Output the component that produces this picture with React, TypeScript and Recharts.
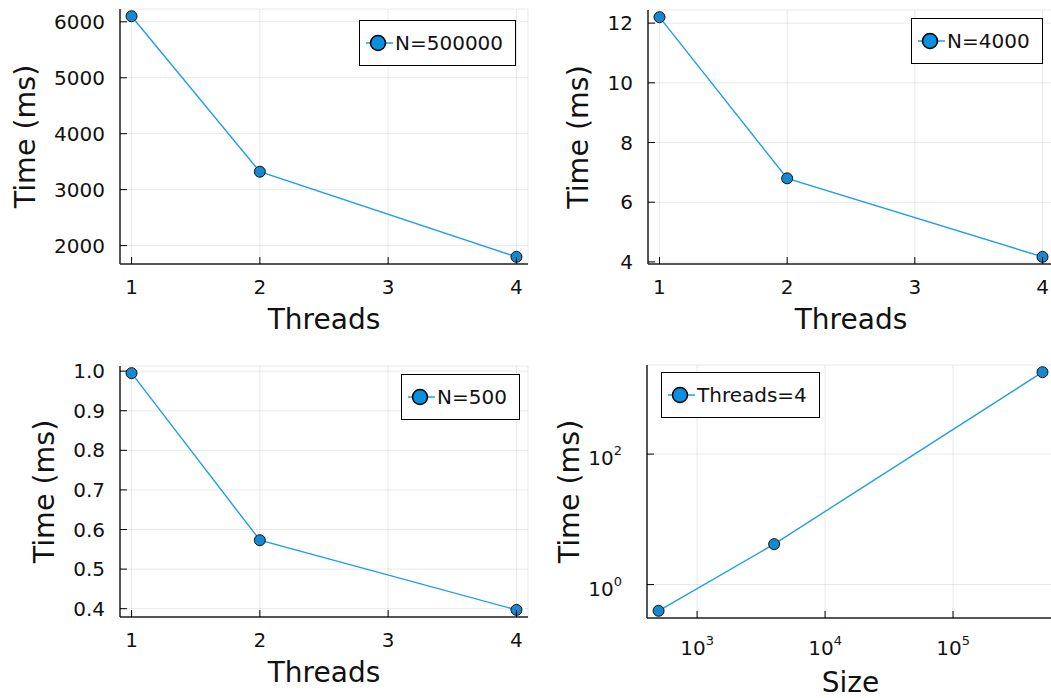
import React from 'react'
import { LineChart, Line, XAxis, YAxis, CartesianGrid, Legend } from 'recharts'

// values
const threads = [1, 2, 4]
const timeN500000 = [6100, 3320, 1800]
const timeN4000 = [12.2, 6.8, 4.17]
const timeN500 = [0.995, 0.573, 0.397]
const sizes = [500, 4000, 500000]
const timeThreads4 = [0.397, 4.17, 1800]

const threadTicks = [1, 2, 3, 4]
const ticksN500000 = [2000, 3000, 4000, 5000, 6000]
const ticksN4000 = [4, 6, 8, 10, 12]
const ticksN500 = [0.4, 0.5, 0.6, 0.7, 0.8, 0.9, 1.0]
const sizeTicks = [1000, 10000, 100000]
const logTimeTicks = [1, 100]

const FONT = "'DejaVu Sans', sans-serif"
const BLUE = '#1f9ee8'

const toRows = (xs, ys) => xs.map((x, i) => ({ x, t: ys[i] }))

const exp10 = v => Math.round(Math.log10(v))

const XTick = ({ x, y, payload, log }) => (
  <g>
    <line x1={x} x2={x} y1={y} y2={y - 7} stroke="#000" strokeWidth={1} />
    {log ? (
      <text x={x} y={y + 37} textAnchor="middle" fontSize={20} fontFamily={FONT} fill="#111">
        <tspan>10</tspan>
        <tspan dy={-10} fontSize={13}>{exp10(payload.value)}</tspan>
      </text>
    ) : (
      <text x={x} y={y + 30} textAnchor="middle" fontSize={20} fontFamily={FONT} fill="#111">
        {payload.value}
      </text>
    )}
  </g>
)

const YTick = ({ x, y, payload, log, digits }) => (
  <g>
    <line x1={x} x2={x + 7} y1={y} y2={y} stroke="#000" strokeWidth={1} />
    {log ? (
      <text x={x - 25} y={y + 11} textAnchor="end" fontSize={20} fontFamily={FONT} fill="#111">
        <tspan>10</tspan>
        <tspan dy={-10} fontSize={13}>{exp10(payload.value)}</tspan>
      </text>
    ) : (
      <text x={x - 15} y={y + 7} textAnchor="end" fontSize={20} fontFamily={FONT} fill="#111">
        {digits ? payload.value.toFixed(digits) : payload.value}
      </text>
    )}
  </g>
)

const LegendBox = ({ label }) => (
  <div
    style={{
      position: 'relative',
      boxSizing: 'border-box',
      height: 46,
      border: '1.5px solid #000',
      background: '#fff',
      paddingLeft: 35,
      paddingRight: 12,
      display: 'flex',
      alignItems: 'center',
      fontFamily: FONT,
      fontSize: 20,
      color: '#111',
      whiteSpace: 'nowrap',
    }}
  >
    <svg width={36} height={20} style={{ position: 'absolute', left: 0, top: 12 }}>
      <line x1={6} x2={33} y1={10} y2={10} stroke={BLUE} strokeWidth={1.5} />
      <circle cx={18} cy={10} r={7.5} fill="#0b8fdf" stroke="#000" strokeWidth={1.5} />
    </svg>
    {label}
  </div>
)

const Panel = ({
  left, top, width, height, plot, data, xDomain, yDomain, xTicks, yTicks,
  logX, logY, digits, xTitle, xTitleOffset, yTitleOffset, legend, legendPos,
}) => (
  <div style={{ position: 'absolute', left, top }}>
    <LineChart
      width={width}
      height={height}
      data={data}
      margin={{ top: plot.t, right: width - plot.r, bottom: 0, left: 0 }}
    >
      <CartesianGrid stroke="#000" strokeOpacity={0.09} />
      <XAxis
        dataKey="x"
        type="number"
        scale={logX ? 'log' : 'linear'}
        domain={xDomain}
        ticks={xTicks}
        height={height - plot.b}
        tickSize={0}
        tickMargin={0}
        tickLine={false}
        axisLine={{ stroke: '#222', strokeWidth: 1.5 }}
        tick={p => <XTick {...p} log={logX} />}
        interval={0}
        label={{
          value: xTitle,
          position: 'insideTop',
          offset: xTitleOffset,
          style: { fontSize: 28, fontFamily: FONT, fill: '#111' },
        }}
      />
      <YAxis
        dataKey="t"
        type="number"
        scale={logY ? 'log' : 'linear'}
        domain={yDomain}
        ticks={yTicks}
        width={plot.l}
        tickSize={0}
        tickMargin={0}
        tickLine={false}
        axisLine={{ stroke: '#222', strokeWidth: 1.5 }}
        tick={p => <YTick {...p} log={logY} digits={digits} />}
        interval={0}
        label={{
          value: 'Time (ms)',
          angle: -90,
          position: 'insideLeft',
          offset: yTitleOffset,
          style: { textAnchor: 'middle', fontSize: 28.5, fontFamily: FONT, fill: '#111' },
        }}
      />
      <Legend
        layout="vertical"
        align="center"
        verticalAlign="middle"
        wrapperStyle={{ left: legendPos[0], top: legendPos[1], width: 'auto' }}
        content={() => <LegendBox label={legend} />}
      />
      <Line
        dataKey="t"
        type="linear"
        stroke={BLUE}
        strokeWidth={1.4}
        dot={{ r: 5.5, fill: '#1688d0', stroke: '#111', strokeWidth: 1 }}
        activeDot={false}
        isAnimationActive={false}
      />
    </LineChart>
  </div>
)

export default function App() {
  return (
    <div
      style={{
        position: 'absolute',
        left: 0,
        top: 0,
        width: 1051,
        height: 698,
        overflow: 'hidden',
        background: '#fff',
      }}
    >
      <Panel
        left={0} top={0} width={540} height={340}
        plot={{ l: 120, t: 9, r: 528, b: 264 }}
        data={toRows(threads, timeN500000)}
        xDomain={[0.91, 4.09]} yDomain={[1671, 6229]}
        xTicks={threadTicks} yTicks={ticksN500000}
        xTitle="Threads" xTitleOffset={45} yTitleOffset={25}
        legend="N=500000" legendPos={[359, 20]}
      />
      <Panel
        left={540} top={0} width={520} height={340}
        plot={{ l: 108, t: 10, r: 514, b: 264 }}
        data={toRows(threads, timeN4000)}
        xDomain={[0.91, 4.09]} yDomain={[3.93, 12.44]}
        xTicks={threadTicks} yTicks={ticksN4000}
        xTitle="Threads" xTitleOffset={45} yTitleOffset={38}
        legend="N=4000" legendPos={[371, 18]}
      />
      <Panel
        left={0} top={340} width={540} height={358}
        plot={{ l: 120, t: 26, r: 528, b: 277 }}
        data={toRows(threads, timeN500)}
        xDomain={[0.91, 4.09]} yDomain={[0.379, 1.013]}
        xTicks={threadTicks} yTicks={ticksN500} digits={1}
        xTitle="Threads" xTitleOffset={45} yTitleOffset={44}
        legend="N=500" legendPos={[401, 34]}
      />
      <Panel
        left={540} top={340} width={520} height={358}
        plot={{ l: 107, t: 25, r: 514, b: 278 }}
        data={toRows(sizes, timeThreads4)}
        xDomain={[406, 615000]} yDomain={[0.3076, 2319]}
        xTicks={sizeTicks} yTicks={logTimeTicks}
        logX logY
        xTitle="Size" xTitleOffset={54} yTitleOffset={29}
        legend="Threads=4" legendPos={[121, 32]}
      />
    </div>
  )
}
